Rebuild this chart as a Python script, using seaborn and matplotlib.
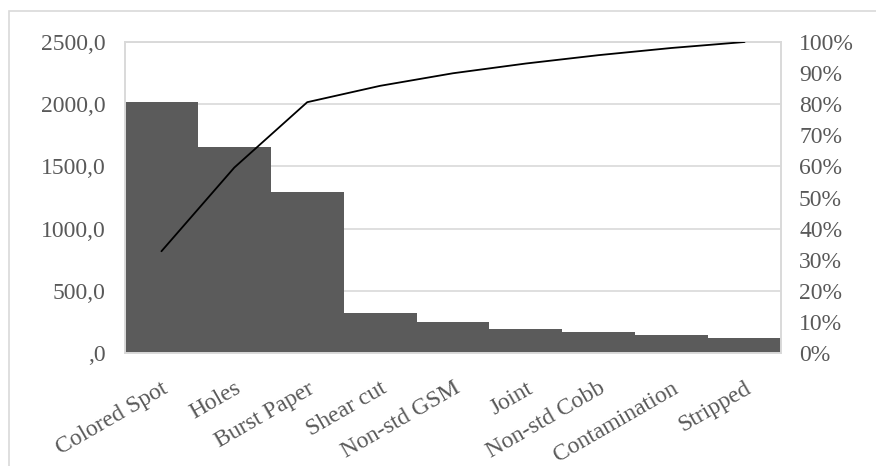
import numpy as np
import matplotlib
matplotlib.use("Agg")
import matplotlib.pyplot as plt
from matplotlib.patches import Rectangle
from matplotlib.ticker import FixedLocator, FuncFormatter
import seaborn as sns

categories = ["Colored Spot", "Holes", "Burst Paper", "Shear cut", "Non-std GSM",
              "Joint", "Non-std Cobb", "Contamination", "Stripped"]
counts = [2015, 1658, 1294, 324, 249, 193, 166, 142, 118]

left_ticks = [0, 500, 1000, 1500, 2000, 2500]
right_ticks = [i / 10 for i in range(11)]

bar_color = "#5b5b5b"
text_color = "#595959"
grid_color = "#d9d9d9"
font_size = 17

sns.set_theme(style="white")
plt.rcParams["font.family"] = ["Liberation Serif", "DejaVu Serif"]

counts_arr = np.array(counts, dtype=float)
cum_pct = np.cumsum(counts_arr) / counts_arr.sum()

fig = plt.figure(figsize=(8.76, 4.66), dpi=100)
ax = fig.add_axes([125 / 876, 1 - 353 / 466, (781 - 125) / 876, (353 - 42) / 466])

# outer chart-area border
fig.patches.append(Rectangle((9 / 876, -0.1), 1.2, 1 - 10.5 / 466 + 0.1,
                             transform=fig.transFigure, fill=False,
                             edgecolor=grid_color, linewidth=1.2, zorder=0))

sns.barplot(x=categories, y=counts, color=bar_color, width=1.0, saturation=1,
            ax=ax, zorder=2)
for p in ax.patches:
    p.set_edgecolor("none")

ax.set_xlim(-0.5, len(categories) - 0.5)
ax.set_ylim(0, 2500)
ax.yaxis.set_major_locator(FixedLocator(left_ticks))
ax.yaxis.set_major_formatter(FuncFormatter(
    lambda v, _: ",0" if v == 0 else f"{v:.1f}".replace(".", ",")))
ax.grid(axis="y", color=grid_color, linewidth=1.2, zorder=0)
ax.set_axisbelow(True)
ax.set_xlabel("")
ax.set_ylabel("")
for s in ax.spines.values():
    s.set_color(grid_color)
    s.set_linewidth(1.2)
ax.tick_params(axis="y", length=0, pad=14, labelsize=font_size, labelcolor=text_color)
ax.tick_params(axis="x", length=0, pad=18)
ax.set_xticks(range(len(categories)))
ax.set_xticklabels(categories, rotation=30, ha="right", va="top",
                   rotation_mode="anchor", fontsize=font_size, color=text_color)

ax2 = ax.twinx()
sns.lineplot(x=np.arange(len(categories)), y=cum_pct, color="black",
             linewidth=1.3, ax=ax2, zorder=3)
ax2.set_ylim(0, 1)
ax2.yaxis.set_major_locator(FixedLocator(right_ticks))
ax2.yaxis.set_major_formatter(FuncFormatter(lambda v, _: f"{round(v * 100):d}%"))
ax2.tick_params(axis="y", length=0, pad=13, labelsize=font_size, labelcolor=text_color)
ax2.set_ylabel("")
for s in ax2.spines.values():
    s.set_color(grid_color)
    s.set_linewidth(1.2)

fig.savefig("out.png", dpi=100)
